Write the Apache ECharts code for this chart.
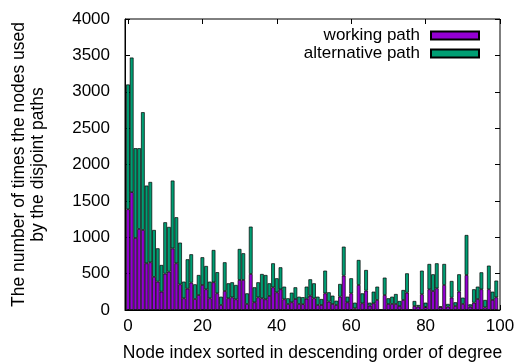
<!DOCTYPE html>
<html>
<head>
<meta charset="utf-8">
<script src="https://cdn.jsdelivr.net/npm/echarts@6/dist/echarts.min.js"></script>
<style>
html,body{margin:0;padding:0;background:#fff;}
#chart{width:520px;height:363px;}
</style>
</head>
<body>
<div id="chart"></div>
<script>
const nodeIndex = Array.from({length: 100}, (_, i) => String(i));
const xTicks = [0, 20, 40, 60, 80, 100];
const workingPath = [1385,1620,990,1114,1100,642,656,455,390,252,
500,527,846,642,353,161,293,376,151,206,
344,285,161,381,230,69,261,161,174,147,
413,413,83,495,106,174,161,147,193,312,
243,285,147,83,106,151,83,80,156,197,
161,69,69,229,115,83,69,183,472,106,
229,23,344,92,266,60,92,138,0,206,
83,83,83,55,138,238,0,55,46,216,
41,285,261,298,40,344,46,170,55,252,
83,481,46,101,151,285,37,285,138,174];
const alternativePath = [1715,1850,1234,1110,1619,1068,1104,645,458,367,
706,615,933,633,573,229,404,390,202,275,
381,320,229,444,290,114,395,206,207,197,
426,367,146,651,206,207,334,334,174,330,
193,302,174,78,132,161,100,96,165,225,
206,114,82,312,128,114,59,175,399,77,
207,78,344,137,284,41,160,183,0,239,
78,100,137,69,137,266,0,69,23,325,
60,348,230,344,10,289,37,229,51,239,
87,550,32,184,170,233,101,325,114,230];
const seriesNames = ['working path', 'alternative path'];

const FONT = 'Liberation Sans, Arial, Helvetica, sans-serif';
const W = 520, GL = 125, GR = 20, GT = 19, GB = 53;
const XMIN = -0.8, XMAX = 100;
const pxPerUnit = (W - GL - GR) / (XMAX - XMIN);
// bar grid spans exactly the bands of node indices -0.5 .. 99.5 on the visible scale
const barLeft = GL + (-0.5 - XMIN) * pxPerUnit;
const barRight = W - (GL + (nodeIndex.length - 0.5 - XMIN) * pxPerUnit);

const chart = echarts.init(document.getElementById('chart'), null, {renderer: 'canvas'});
const barStyle = c => ({color: c, borderColor: '#000', borderWidth: 0.7});
const hiddenAxis = {axisLine: {show: false}, axisTick: {show: false}, axisLabel: {show: false}, splitLine: {show: false}};

const option = {
  animation: false,
  backgroundColor: '#fff',
  textStyle: {fontFamily: FONT},
  grid: [
    {left: GL, right: GR, top: GT, bottom: GB, show: true, borderColor: '#000', borderWidth: 1,
     backgroundColor: 'transparent', z: 5, containLabel: false, outerBoundsMode: 'none'},
    {left: barLeft, right: barRight, top: GT, bottom: GB, containLabel: false, outerBoundsMode: 'none'}
  ],
  legend: {
    orient: 'vertical', right: 35, top: 22, align: 'right', itemGap: 1,
    itemWidth: 48, itemHeight: 8, icon: 'rect',
    textStyle: {fontFamily: FONT, fontSize: 17, color: '#000', padding: [0, 6, 0, 0], lineHeight: 17},
    data: seriesNames
  },
  xAxis: [{
    gridIndex: 0, type: 'value', min: XMIN, max: XMAX,
    name: 'Node index sorted in descending order of degree',
    nameLocation: 'middle', nameGap: 34,
    nameTextStyle: {fontFamily: FONT, fontSize: 17.5, color: '#000'},
    axisLine: {show: true, onZero: false, lineStyle: {color: '#000'}},
    axisTick: {show: true, inside: true, length: 5, customValues: xTicks, lineStyle: {color: '#000'}},
    axisLabel: {customValues: xTicks, fontFamily: FONT, fontSize: 17, color: '#000', margin: 8},
    splitLine: {show: false}
  }, {
    gridIndex: 0, type: 'value', position: 'top', min: XMIN, max: XMAX,
    axisLine: {show: false, onZero: false},
    axisTick: {show: true, inside: true, length: 5, customValues: xTicks, lineStyle: {color: '#000'}},
    axisLabel: {show: false},
    splitLine: {show: false}
  }, Object.assign({gridIndex: 1, type: 'category', data: nodeIndex, boundaryGap: true}, hiddenAxis)],
  yAxis: [{
    gridIndex: 0, type: 'value', min: 0, max: 4000, interval: 500,
    name: 'The number of times the nodes used\nby the disjoint paths',
    nameLocation: 'middle', nameRotate: 90, nameGap: 77,
    nameTextStyle: {fontFamily: FONT, fontSize: 17.5, color: '#000', lineHeight: 19},
    axisLine: {show: true, onZero: false, lineStyle: {color: '#000'}},
    axisTick: {show: true, inside: true, length: 5, lineStyle: {color: '#000'}},
    axisLabel: {fontFamily: FONT, fontSize: 17, color: '#000', margin: 15, formatter: v => String(v)},
    splitLine: {show: false}
  }, {
    gridIndex: 0, type: 'value', position: 'right', min: 0, max: 4000, interval: 500,
    axisLine: {show: false, onZero: false},
    axisTick: {show: true, inside: true, length: 5, lineStyle: {color: '#000'}},
    axisLabel: {show: false},
    splitLine: {show: false}
  }, Object.assign({gridIndex: 1, type: 'value', min: 0, max: 4000, interval: 500}, hiddenAxis)],
  series: [{
    name: seriesNames[0], type: 'bar', stack: 'total', xAxisIndex: 2, yAxisIndex: 2,
    barWidth: '100%', barCategoryGap: 0,
    itemStyle: barStyle('#9400D3'),
    data: workingPath
  }, {
    name: seriesNames[1], type: 'bar', stack: 'total', xAxisIndex: 2, yAxisIndex: 2,
    barWidth: '100%', barCategoryGap: 0,
    itemStyle: barStyle('#009E73'),
    data: alternativePath
  }]
};
chart.setOption(option);
</script>
</body>
</html>
